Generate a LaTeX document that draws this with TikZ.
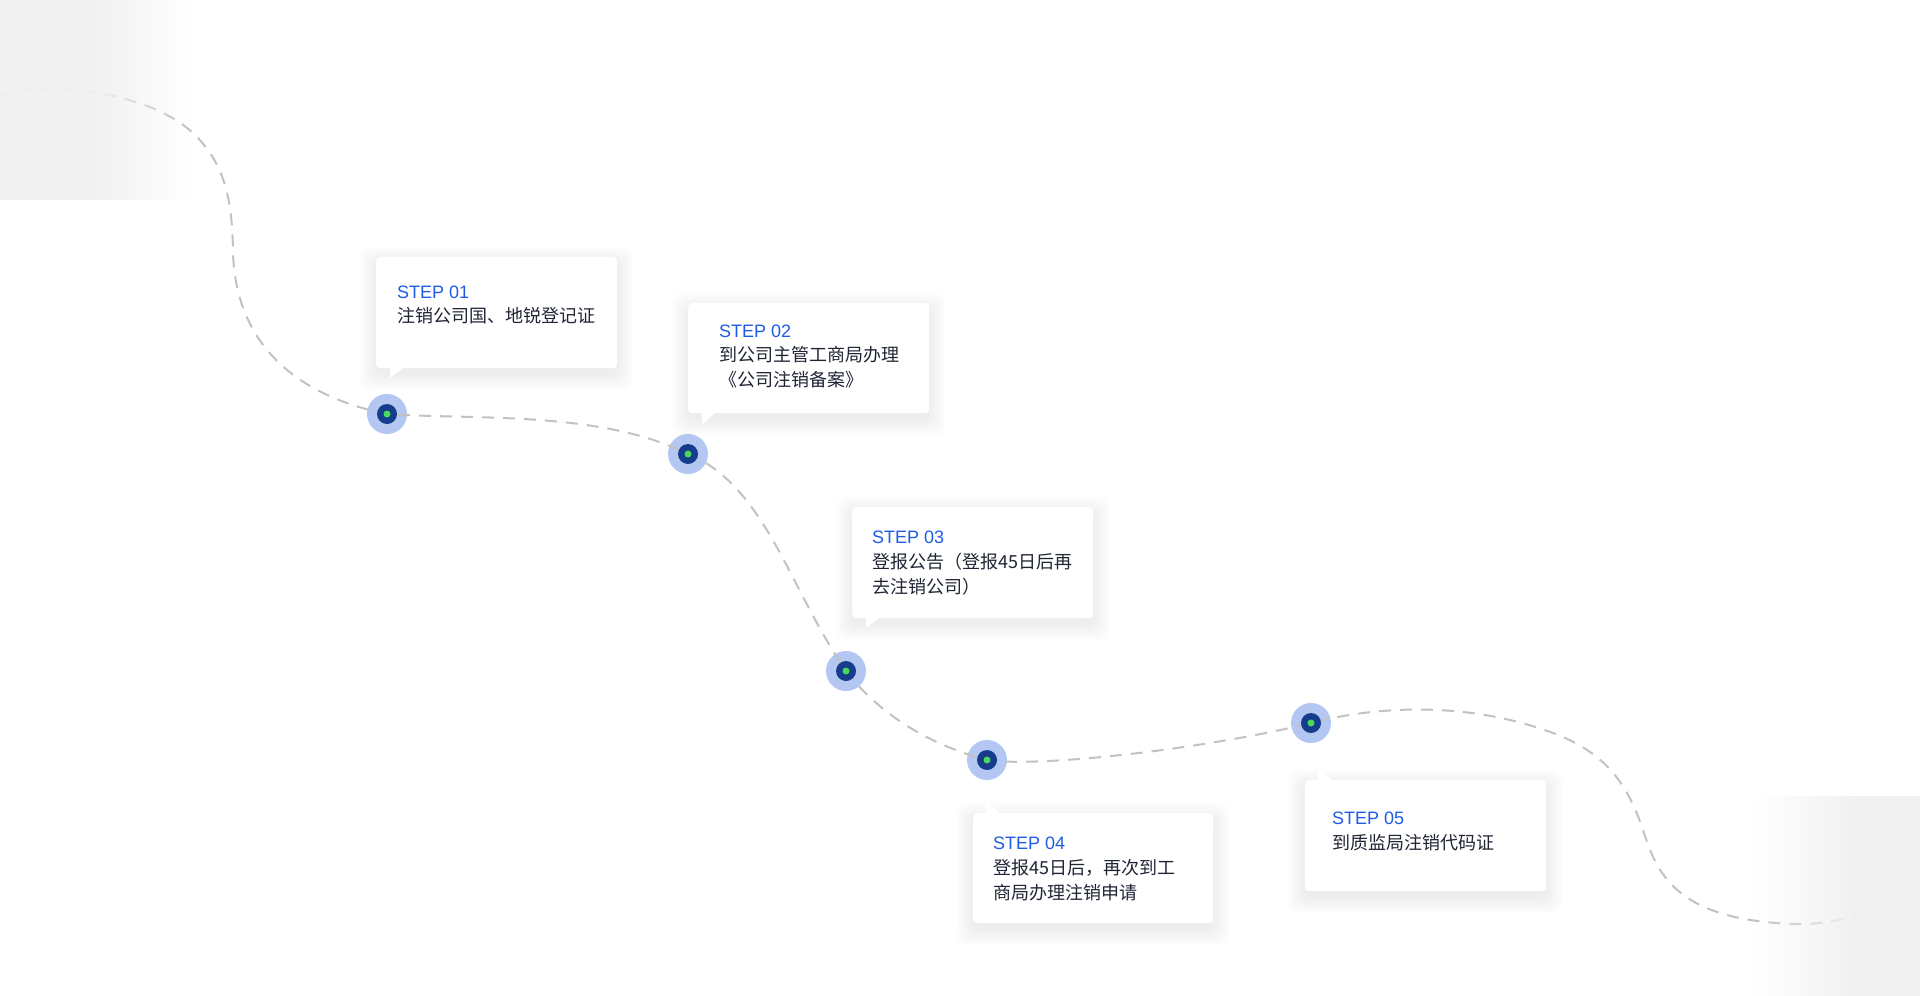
\documentclass[tikz,border=0pt]{standalone}
\usepackage{fontspec}
\setmainfont{Liberation Sans}
\newfontfamily\cjkfont{Noto Sans CJK SC}
\usetikzlibrary{fadings}
\definecolor{bggray}{HTML}{F1F1F1}
\definecolor{linegray}{HTML}{C2C2C2}
\definecolor{ringblue}{HTML}{B3C7F2}
\definecolor{coreblue}{HTML}{163C8C}
\definecolor{dotgreen}{HTML}{46D95A}
\definecolor{stepblue}{HTML}{1F5CE5}
\definecolor{desctext}{HTML}{1F2533}
\tikzfading[name=fadeoutR, left color=transparent!0, right color=transparent!100]
\tikzfading[name=fadeinR, left color=transparent!100, right color=transparent!0]
\tikzset{
  pathline/.style={draw=linegray, line width=2pt, dash pattern=on 12pt off 9pt},
  ringdot/.style={circle, fill=ringblue, minimum size=40pt, inner sep=0pt},
  coredot/.style={circle, fill=coreblue, minimum size=20pt, inner sep=0pt},
  greendot/.style={circle, fill=dotgreen, minimum size=7pt, inner sep=0pt},
  cardbox/.style={fill=white, rounded corners=4pt, inner sep=0pt, anchor=north west},
  cardtail/.style={fill=white},
  shadowlayer/.style={fill=black, opacity=0.004, rounded corners=10pt},
  steplabel/.style={anchor=base west, inner sep=0pt, text=stepblue, font=\fontsize{18pt}{25pt}\selectfont},
  desclabel/.style={anchor=base west, inner sep=0pt, text=desctext, font=\cjkfont\fontsize{18pt}{25pt}\selectfont},
  bgpanel/.style={fill=bggray, fill opacity=0.95, draw=none},
}
\newcommand\mycardshadow[4]{%
  \foreach \s in {0,...,17}{%
    \fill[shadowlayer] (#1-\s, #2-\s+6) rectangle (#3+\s, #4+\s+6);
  }%
}
\begin{document}
\begin{tikzpicture}[x=1pt, y=-1pt]
\useasboundingbox (0,0) rectangle (1920,996);
\fill[white] (0,0) rectangle (1920,996);

% outer rings
\node[ringdot] (c1) at (387,414) {};
\node[ringdot] (c2) at (688,454) {};
\node[ringdot] (c3) at (846,671) {};
\node[ringdot] (c4) at (987,760) {};
\node[ringdot] (c5) at (1311,723) {};

% dashed route
\draw[pathline] (0,95) .. controls (40,82) and (150,88) .. (197,137)
  .. controls (225,166) and (232,200) .. (233,250)
  .. controls (234,320) and (270,390) .. (c1.center)
  .. controls (470,420) and (600,410) .. (c2.center)
  .. controls (765,485) and (790,590) .. (c3.center)
  .. controls (880,715) and (930,745) .. (c4.center)
  .. controls (1040,768) and (1210,748) .. (c5.center)
  .. controls (1380,705) and (1470,702) .. (1553,733)
  .. controls (1610,754) and (1630,790) .. (1644,833)
  .. controls (1658,877) and (1680,920) .. (1794,924)
  .. controls (1840,926) and (1890,905) .. (1925,888);

% inner dots
\foreach \c in {c1,c2,c3,c4,c5}{
  \node[coredot] (\c core) at (\c.center) {};
  \node[greendot] (\c dot) at (\c.center) {};
}

% background panels (drawn over the route so it fades out)
\fill[bgpanel] (0,0) rectangle (96,200);
\fill[bgpanel, path fading=fadeoutR] (96,0) rectangle (190,200);
\fill[bgpanel, path fading=fadeinR] (1756,796) rectangle (1852,996);
\fill[bgpanel] (1852,796) rectangle (1920,996);

% card 1
\mycardshadow{376}{257}{617}{368}
\node[cardbox, minimum width=241pt, minimum height=111pt] (k1) at (376,257) {};
\fill[cardtail] (390,366) -- (390,378) -- (406,366) -- cycle;
\node[steplabel] (s1) at (397,298) {STEP 01};
\node[desclabel] (d1) at (397,322.5) {注销公司国、地锐登记证};

% card 2
\mycardshadow{688}{303}{929}{413}
\node[cardbox, minimum width=241pt, minimum height=110pt] (k2) at (688,303) {};
\fill[cardtail] (702,411) -- (702,425) -- (717,411) -- cycle;
\node[steplabel] (s2) at (719,337) {STEP 02};
\node[desclabel] (d2a) at (719,361.5) {到公司主管工商局办理};
\node[desclabel] (d2b) at (719,386.5) {《公司注销备案》};

% card 3
\mycardshadow{852}{507}{1093}{618}
\node[cardbox, minimum width=241pt, minimum height=111pt] (k3) at (852,507) {};
\fill[cardtail] (866,616) -- (866,628) -- (882,616) -- cycle;
\node[steplabel] (s3) at (872,543) {STEP 03};
\node[desclabel] (d3a) at (872,568) {登报公告（登报45日后再};
\node[desclabel] (d3b) at (872,593) {去注销公司）};

% card 4
\mycardshadow{973}{813}{1213}{923}
\node[cardbox, minimum width=240pt, minimum height=110pt] (k4) at (973,813) {};
\fill[cardtail] (986,815) -- (986,802) -- (1002,815) -- cycle;
\node[steplabel] (s4) at (993,849) {STEP 04};
\node[desclabel] (d4a) at (993,874.5) {登报45日后，再次到工};
\node[desclabel] (d4b) at (993,899.5) {商局办理注销申请};

% card 5
\mycardshadow{1305}{780}{1546}{891}
\node[cardbox, minimum width=241pt, minimum height=111pt] (k5) at (1305,780) {};
\fill[cardtail] (1318,782) -- (1318,768) -- (1334,782) -- cycle;
\node[steplabel] (s5) at (1332,824) {STEP 05};
\node[desclabel] (d5) at (1332,849) {到质监局注销代码证};
\end{tikzpicture}
\end{document}
